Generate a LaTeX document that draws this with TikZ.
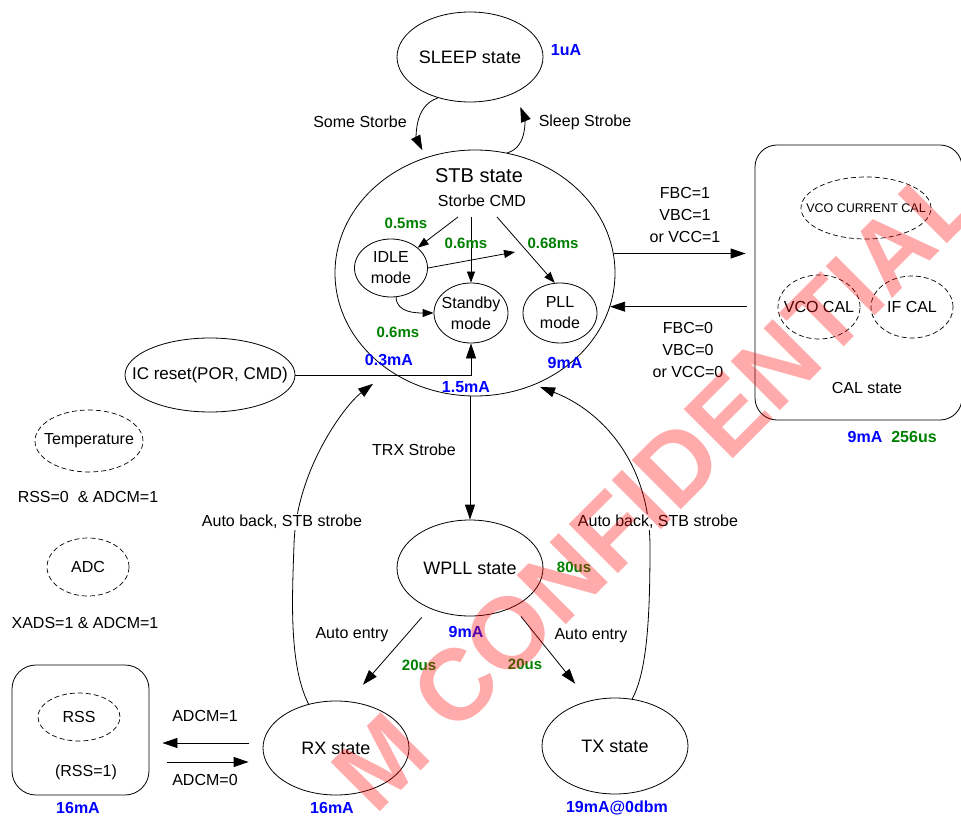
\documentclass[tikz,border=0pt]{standalone}
\usepackage{fontspec}
\setmainfont{Liberation Sans}
\definecolor{ampblue}{HTML}{0000FF}
\definecolor{timegreen}{HTML}{008000}
\definecolor{stamp}{HTML}{FF0000}
\usetikzlibrary{arrows.meta,positioning,shapes.geometric}

\begin{document}
\begin{tikzpicture}[x=1pt,y=-1pt,
 state/.style={draw,ellipse,line width=0.8pt,inner xsep=-20pt,inner ysep=0pt,font=\fontsize{18}{22}\selectfont},
 mode/.style={draw,ellipse,line width=0.8pt,inner xsep=-20pt,inner ysep=0pt,align=center,font=\fontsize{16}{21}\selectfont},
 sub/.style={draw,ellipse,line width=0.7pt,dash pattern=on 5pt off 3pt,inner xsep=-20pt,inner ysep=0pt,font=\fontsize{16}{20}\selectfont},
 frame/.style={draw,line width=0.8pt,inner sep=0pt},
 lbl/.style={inner sep=1pt,align=center,font=\fontsize{16}{22}\selectfont},
 amp/.style={inner sep=0pt,text=ampblue,font=\bfseries\fontsize{16}{18}\selectfont},
 dly/.style={inner sep=0pt,text=timegreen,font=\bfseries\fontsize{15}{18}\selectfont},
 arr/.style={-{Triangle[length=15pt,width=10pt]},line width=0.8pt},
 sarr/.style={-{Triangle[length=11pt,width=8pt]},line width=0.8pt}]
\useasboundingbox (0,0) rectangle (961,818);

\node[state,minimum width=146pt,minimum height=90pt] (sleep) at (470,57) {SLEEP state};
\node[amp] (sleepamp) at (566,50) {1uA};

\node[state,minimum width=280pt,minimum height=246pt] (stb) at (475,273) {};
\node[inner sep=0pt,font=\fontsize{20}{22}\selectfont] (stbname) at (479,176) {STB state};
\node[lbl] (stbcmd) at (482,201) {Storbe CMD};
\node[mode,minimum width=73pt,minimum height=58pt] (idle) at (391,268) {IDLE\\mode};
\node[mode,minimum width=74pt,minimum height=60pt] (standby) at (471,313) {Standby\\mode};
\node[mode,minimum width=74pt,minimum height=60pt] (pll) at (560,313) {PLL\\mode};
\coordinate (cmdl) at (458,217);
\coordinate (cmdm) at (471,217);
\coordinate (cmdr) at (497,217);
\coordinate (idlegoal) at (515,252);
\draw[sarr] (cmdl) -- (idle);
\draw[sarr] (cmdm) -- (standby);
\draw[sarr] (cmdr) -- (pll.100);
\draw[sarr] (idle.east) -- (idlegoal);
\draw[sarr] (idle.280) .. controls +(0,16) and +(-16,0) .. (standby.west);
\node[dly] (idletime) at (406,223) {0.5ms};
\node[dly] (standbytime) at (466,243) {0.6ms};
\node[dly] (plltime) at (553,243) {0.68ms};
\node[dly] (idlestandby) at (398,332) {0.6ms};
\node[amp] (idleamp) at (389,360) {0.3mA};
\node[amp] (pllamp) at (565,363) {9mA};
\node[amp] (standbyamp) at (466,387) {1.5mA};

\draw[arr,shorten >=8pt] (sleep.232) .. controls +(-25,8) and +(-9,-18) .. (stb.113);
\draw[arr,shorten >=15pt] (stb.75) .. controls +(22,-6) and +(9,22) .. (sleep.321);
\node[lbl] (somestrobe) at (360,122) {Some Storbe};
\node[lbl] (sleepstrobe) at (585,122) {Sleep Strobe};

\node[state,font=\fontsize{17}{20}\selectfont,minimum width=170pt,minimum height=74pt] (icreset) at (210,375) {IC reset(POR, CMD)};
\draw[arr] (icreset.east) -| (standby.south);

\node[state,minimum width=146pt,minimum height=96pt] (wpll) at (470,568) {WPLL state};
\draw[arr] (wpll.north |- stb.south) -- (wpll.north);
\node[lbl] (trx) at (414,450) {TRX Strobe};
\node[dly] (wplltime) at (574,567) {80us};
\node[amp] (wpllamp) at (466,632) {9mA};

\node[state,minimum width=146pt,minimum height=94pt] (rx) at (336,748) {RX state};
\node[state,minimum width=146pt,minimum height=96pt] (tx) at (615,746) {TX state};
\node[amp] (rxamp) at (332,808) {16mA};
\node[amp] (txamp) at (617,808) {19mA@0dbm};
\draw[arr,shorten <=12pt,shorten >=22pt] (wpll.225) -- (rx.75);
\draw[arr,shorten <=12pt,shorten >=22pt] (wpll.318) -- (tx.120);
\node[lbl] (entryl) at (352,635) {Auto entry};
\node[lbl] (entryr) at (591,636) {Auto entry};
\node[dly] (rxtime) at (419,665) {20us};
\node[dly] (txtime) at (525,664) {20us};

\draw[arr,shorten >=21pt] (rx.122) .. controls (289,665) and (292,600) .. (294,545)
  .. controls (296,470) and (345,405) .. (stb.229);
\draw[arr,shorten >=6pt] (tx.70) .. controls (648,670) and (650,610) .. (650,545)
  .. controls (649,460) and (600,410) .. (stb.298);
\node[lbl,fill=white] (backl) at (282,522) {Auto back, STB strobe};
\node[lbl,fill=white] (backr) at (658,522) {Auto back, STB strobe};

\node[sub,minimum width=108pt,minimum height=62pt] (temp) at (89,441) {Temperature};
\node[lbl] (tempcond) at (88,497) {RSS=0\ \ \& ADCM=1};
\node[sub,minimum width=82pt,minimum height=58pt] (adc) at (88,567) {ADC};
\node[lbl] (adccond) at (85,623) {XADS=1 \& ADCM=1};

\node[frame,rounded corners=24pt,minimum width=137pt,minimum height=130pt] (rssbox) at (80.5,730) {};
\node[sub,minimum width=82pt,minimum height=48pt] (rss) at (79,717) {RSS};
\node[lbl] (rssflag) at (86,772) {(RSS=1)};
\node[amp] (rssamp) at (78,808) {16mA};
\coordinate (adcmon) at ([yshift=5pt]rx.west);
\coordinate (adcmoff) at ([yshift=-14pt]rx.west);
\draw[arr,shorten <=14pt,shorten >=13pt] (adcmon) -- (adcmon -| rssbox.east);
\draw[arr,shorten <=18pt,shorten >=14pt] (adcmoff -| rssbox.east) -- (adcmoff);
\node[lbl] (adcmset) at (205,716) {ADCM=1};
\node[lbl] (adcmclr) at (205,780) {ADCM=0};

\node[frame,rounded corners=22pt,minimum width=207pt,minimum height=275pt] (cal) at (858.5,282.5) {};
\node[sub,font=\fontsize{12.5}{14}\selectfont,minimum width=130pt,minimum height=62pt] (vcocur) at (866,208) {VCO CURRENT CAL};
\node[sub,minimum width=82pt,minimum height=64pt] (vcocal) at (819,307) {VCO CAL};
\node[sub,minimum width=82pt,minimum height=62pt] (ifcal) at (912,307) {IF CAL};
\node[lbl] (calname) at (867,388) {CAL state};
\node[amp] (calamp) at (865,437) {9mA};
\node[dly,font=\bfseries\fontsize{16}{18}\selectfont] (caltime) at (914,437) {256us};
\draw[arr,shorten >=9pt] (stb.8) -- (stb.8 -| cal.west);
\draw[arr,shorten <=8pt] (stb.-14 -| cal.west) -- (stb.-14);
\node[lbl] (calon) at (685,215) {FBC=1\\VBC=1\\or VCC=1};
\node[lbl] (caloff) at (688,350) {FBC=0\\VBC=0\\or VCC=0};

\node[rotate=45,text=stamp,text opacity=0.33,inner sep=0pt,font=\bfseries\fontsize{101}{110}\selectfont] (stampmark) at (656,486) {M CONFIDENTIAL};
\end{tikzpicture}
\end{document}
